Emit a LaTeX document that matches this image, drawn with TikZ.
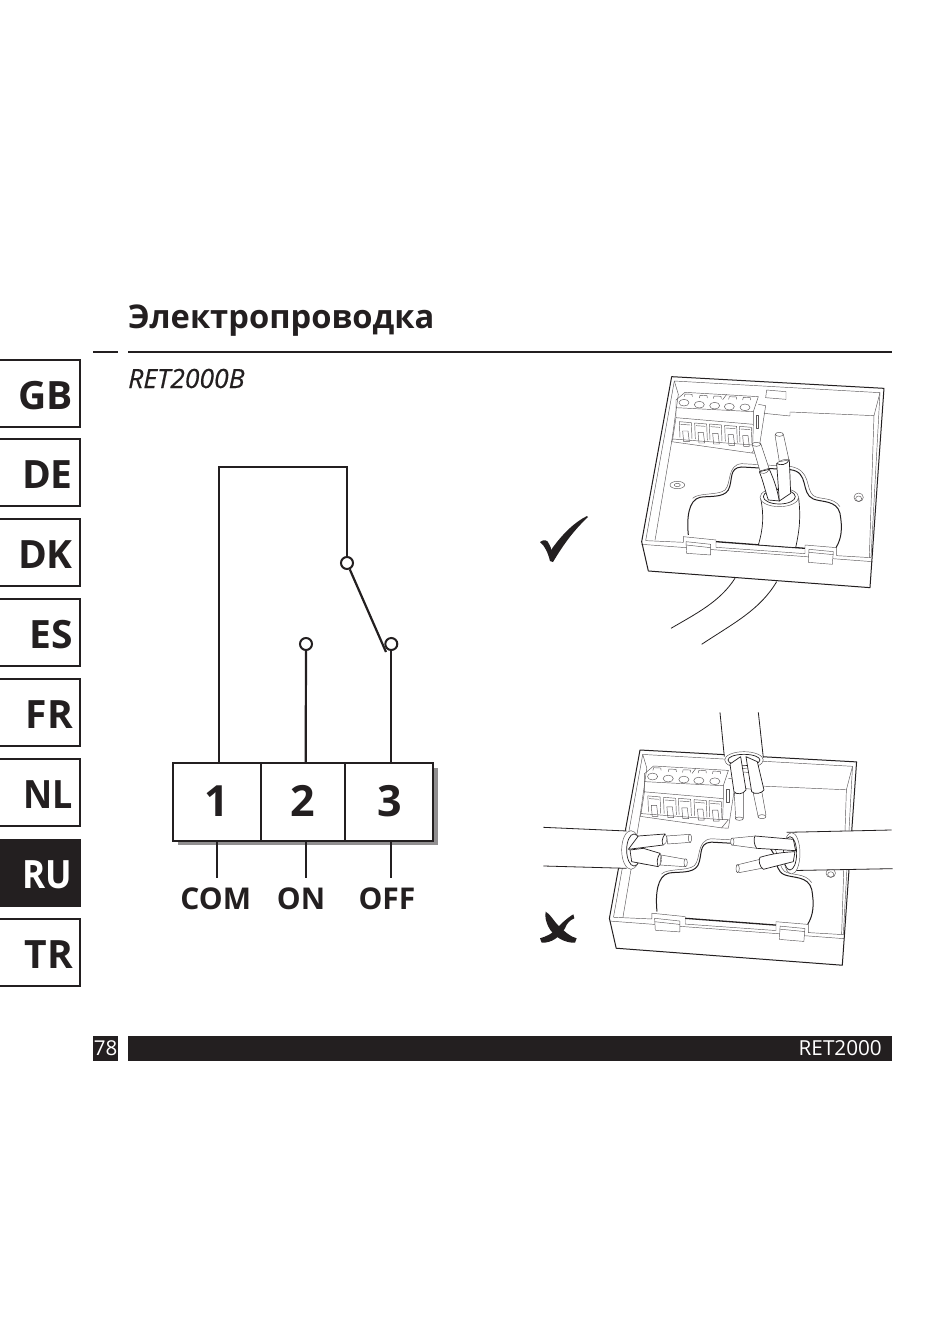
\documentclass[tikz,border=0pt]{standalone}
\usepackage{fontspec}
\setmainfont{Open Sans}
\definecolor{ink}{HTML}{231F20}
\tikzset{
  tab/.style={draw=ink,line width=1.4pt,fill=white},
  tabtext/.style={anchor=base east,inner sep=0pt,text=ink,font=\fontsize{39}{39}\selectfont\bfseries},
  wire/.style={draw=ink,line width=2.2pt},
  term/.style={circle,draw=ink,line width=2pt,fill=white,minimum size=12pt,inner sep=0pt},
  terminal/.style={draw=ink,line width=2pt,fill=white,minimum height=77.5pt,inner sep=0pt,text=ink,font=\fontsize{43}{43}\selectfont\bfseries},
  pin/.style={anchor=base,inner sep=0pt,text=ink,font=\fontsize{30}{30}\selectfont\bfseries},
  hv/.style={draw=ink,line width=1pt,line join=round},
  hm/.style={draw=ink,line width=.8pt,line join=round},
  ht/.style={draw=ink!75,line width=.45pt,line join=round},
  cab/.style={draw=ink,line width=.7pt,fill=white,line join=round},
  core/.style={draw=ink!80,line width=.45pt,fill=white,line join=round},
}
\newcommand{\housingshape}{%
  % walls
  \draw[ht] (163,48)--(780,83)--(753,578);
  \draw[ht] (163,48)--(77,527);
  \draw[ht] (163,48)--(175,88)--(155,230)--(105,526);
  \draw[ht] (780,83)--(762,152)--(748,578);
  \draw[ht] (510,141)--(762,152);
  \draw[ht] (432,145)--(510,153)--(510,141);
  \draw[ht] (440,75)--(498,80)--(498,103)--(437,98)--cycle;
  % holes
  \draw[ht] (172,360) ellipse (22 and 11);
  \draw[ht] (172,360) ellipse (9 and 5);
  \draw[ht] (716,397) ellipse (14 and 13);
  \draw[ht] (716,401) ellipse (9 and 8);
  % terminal block
  \draw[ht] (195,82)--(415,95)--(400,140)--(168,128)--(168,105)--cycle;
  \draw[ht] (168,128)--(168,158)--(400,178)--(400,140);
  \draw[ht] (168,158)--(158,222)--(398,240)--(400,178);
  \draw[ht] (158,222)--(155,230)--(395,264)--(415,240)--(398,240);
  \draw[ht] (415,118)--(437,122)--(415,265)--(395,264);
  \draw[ht] (408,150) rectangle (416,190);
  \draw[ht] (308,104)--(320,88);
  \foreach \xa/\ya/\xb/\yb in {192/113/205/92,238/119/250/96,284/122/292/98,328/125/338/100,375/127/380/102}{
    \draw[ht] (\xa,\ya) ellipse (15 and 10);
    \draw[ht] (\xb-12,\yb+3)--(\xb-10,\yb-5)--(\xb+11,\yb-4)--(\xb+12,\yb+3);
  }
  \foreach \sx/\sy in {178/170,224/174,268/177,314/181,358/184}{
    \draw[ht] (\sx,\sy)--(\sx+36,\sy+3)--(\sx+38,\sy+52);
    \draw[ht] (\sx,\sy)--(\sx+2,\sy+48);
    \draw[ht] (\sx+4,\sy+8)--(\sx+32,\sy+10);
    \draw[ht] (\sx+10,\sy+28)--(\sx+26,\sy+28)--(\sx+30,\sy+60)--(\sx+13,\sy+60)--cycle;
  }
  % slot opening
  \draw[ht] (218,400) .. controls (235,382) and (295,392) .. (315,375)
     .. controls (335,355) and (320,300) .. (365,296) -- (510,304)
     .. controls (575,315) and (555,370) .. (580,392)
     .. controls (600,405) and (640,395) .. (660,425);
  \draw[hm,line width=1pt] (205,510) .. controls (200,460) and (205,405) .. (240,397)
     .. controls (265,392) and (310,400) .. (325,375)
     .. controls (340,345) and (325,308) .. (365,306) -- (510,314)
     .. controls (570,320) and (540,385) .. (580,402)
     .. controls (605,412) and (650,405) .. (660,445)
     .. controls (668,490) and (665,520) .. (648,548);
  % front
  \draw[ht] (78,527)--(190,532)--(190,515)--(288,525)--(288,530);
  \draw[hm,line width=1.3pt] (288,530)--(555,550);
  \draw[ht] (288,530)--(288,547)--(555,566)--(555,540)--(650,548)--(650,572)--(753,578);
  \draw[ht] (65,538)--(757,590);
  \draw[ht,fill=white] (198,530)--(272,538)--(272,570)--(200,565)--cycle;
  \draw[ht] (198,540)--(272,548);
  \draw[ht,fill=white] (567,553)--(640,560)--(637,598)--(565,592)--cycle;
  \draw[ht] (567,562)--(640,569);
  % outer box
  \draw[hv] (155,35)--(792,70)--(750,668)--(85,618)--(65,530)--cycle;
}
\begin{document}
\begin{tikzpicture}[x=1pt,y=-1pt]
\useasboundingbox (0,0) rectangle (950,1344);
\fill[white] (0,0) rectangle (950,1344);
% heading
\node[anchor=base west,inner sep=0pt,text=ink,font=\fontsize{32.7}{33}\selectfont\bfseries] (title) at (128,328) {Электропроводка};
\coordinate (r1a) at (93,352); \coordinate (r1b) at (118,352);
\coordinate (r2a) at (128,352); \coordinate (r2b) at (892,352);
\draw[ink,line width=1.5pt] (r1a)--(r1b);
\draw[ink,line width=1.5pt] (r2a)--(r2b);
\node[anchor=base west,inner sep=0pt,text=ink,font=\fontsize{26.5}{26}\selectfont\itshape\addfontfeature{FakeBold=0.5}] (model) at (128,388) {RET2000B};
% tabs
\foreach \tt/\lab in {360/GB,439/DE,519/DK,599/ES,679/FR,919/TR}{
  \draw[tab] (-3,\tt) rectangle (80,\tt+67);
  \node[tabtext] at (73,\tt+49) {\lab};
}
\draw[tab] (-3,759) rectangle (80,826);
\node[tabtext,transform shape,xscale=.92] (nl) at (73,808) {NL};
\fill[ink] (0,839) rectangle (81,907);
\node[tabtext,text=white,transform shape,xscale=.9] (ru) at (72,888) {RU};
% footer
\fill[ink] (93,1036) rectangle (118,1061);
\node[text=white,inner sep=0pt,font=\fontsize{20.5}{20}\selectfont] (page) at (105.5,1048.5) {78};
\fill[ink] (128,1036) rectangle (892,1061);
\node[anchor=base east,text=white,inner sep=0pt,font=\fontsize{20.7}{20}\selectfont] (foot) at (882,1055.5) {RET2000};
% wiring diagram
\fill[ink!50] (178,768) rectangle (438,845);
\node[terminal,minimum width=87.4pt] (t1) at (217,802) {\raisebox{1.5pt}{1}};
\node[terminal,minimum width=84.6pt] (t2) at (303,802) {\raisebox{1.5pt}{2}};
\node[terminal,minimum width=88pt] (t3) at (389.3,802) {\raisebox{1.5pt}{3}};
\node[pin] (com) at (215.7,909) {COM};
\node[pin] (on) at (301,909) {ON};
\node[pin] (off) at (387,909) {OFF};
\node[term] (s0) at (347,563) {};
\node[term] (s2) at (306,644) {};
\node[term] (s3) at (391.3,644) {};
\coordinate (w1) at (219.3,763.5);
\coordinate (c1) at (219.3,467);
\coordinate (c2) at (347,467);
\coordinate (arm) at (386,652);
\coordinate (w2) at (305.7,763.5);
\coordinate (w3) at (391.3,763.5);
\draw[wire] (w1)--(c1)--(c2)--(s0);
\draw[wire] (s0)--(arm);
\draw[wire] (s2)--(w2);
\draw[wire] (s3)--(w3);
\coordinate (b1a) at (217.3,841); \coordinate (b1b) at (217.3,878);
\coordinate (b2a) at (305.7,841); \coordinate (b2b) at (305.7,878);
\coordinate (b3a) at (391.3,841); \coordinate (b3b) at (391.3,878);
\draw[wire] (b1a)--(b1b);
\draw[wire] (b2a)--(b2b);
\draw[wire] (b3a)--(b3b);
% tick
\fill[ink] (540,542) .. controls (544,539) and (548,540) .. (549,544)
  .. controls (551,547) and (551,549) .. (551,550)
  .. controls (563,533) and (575,522) .. (587,516)
  -- (588,517) .. controls (572,532) and (562,547) .. (553,562)
  -- (550,561) .. controls (548,553) and (545,546) .. (540,542) -- cycle;
% first box
\begin{scope}[shift={(620,365)},x=.3333pt,y=-.3333pt]
  \coordinate (ca1) at (345,640);
  \coordinate (cb1) at (153,790);
  \coordinate (ca2) at (470,650);
  \coordinate (cb2) at (245,838);
  \draw[hm] (ca1) .. controls (300,710) and (230,745) .. (cb1);
  \draw[hm] (ca2) .. controls (420,735) and (340,775) .. (cb2);
  \housingshape
  \draw[cab] (422,400) .. controls (432,450) and (430,490) .. (415,540) -- (527,548)
     .. controls (540,490) and (542,450) .. (536,400) -- cycle;
  \draw[ht,fill=white] (478,397) ellipse (58 and 28);
  \draw[cab] (478,395) ellipse (48 and 22);
  \draw[core] (397,240)--(420,318)--(447,310)--(422,235)--cycle;
  \draw[core] (409,238) ellipse (13 and 6);
  \draw[cab] (418,320) .. controls (430,350) and (435,375) .. (445,405)
     -- (478,408) .. controls (470,365) and (460,340) .. (448,313) -- cycle;
  \draw[ht] (418,320) .. controls (425,328) and (440,328) .. (448,313);
  \draw[core] (465,210)--(478,290)--(507,285)--(490,207)--cycle;
  \draw[core] (478,208) ellipse (12 and 6);
  \draw[cab] (470,295)--(478,408)--(512,385)--(508,285)
     .. controls (500,300) and (480,303) .. (470,295) -- cycle;
  \draw[ht] (470,295) .. controls (480,285) and (500,280) .. (508,285);
\end{scope}
% second box
\begin{scope}[shift={(587.3,738.1)},x=.34pt,y=-.34pt]
  \housingshape
\end{scope}
\begin{scope}[shift={(530,705)},x=.3333pt,y=-.3333pt]
  % top cable
  \draw[cab,draw=none] (570,22)--(585,165)--(700,165)--(685,22)--cycle;
  \draw[hm] (570,22)--(583,155);
  \draw[hm] (685,22)--(700,158);
  \draw[ht,fill=white] (642,165) ellipse (58 and 25);
  \draw[cab] (642,165) ellipse (48 and 17);
  \draw[core] (613,265)--(617,340)--(640,340)--(640,263)--cycle;
  \draw[core] (628,341) ellipse (12 and 5);
  \draw[core] (670,265)--(685,337)--(708,330)--(695,258)--cycle;
  \draw[core] (696,335) ellipse (12 and 6);
  \draw[cab] (600,177)--(612,260) .. controls (620,270) and (640,268) .. (648,255)--(632,155)--cycle;
  \draw[cab] (648,155)--(665,260) .. controls (675,270) and (695,265) .. (702,255)--(682,170)--cycle;
  % left cable
  \draw[cab,draw=none] (40,367)--(290,378)--(290,490)--(40,483)--cycle;
  \draw[hm] (40,367)--(290,378);
  \draw[hm] (40,483)--(290,490);
  \draw[ht,fill=white] (303,435) ellipse (28 and 58);
  \draw[cab] (312,435) ellipse (22 and 48);
  \draw[core] (410,393)--(480,388)--(482,412)--(413,417)--cycle;
  \draw[core] (480,400) ellipse (5 and 12);
  \draw[cab] (325,393)--(405,387) .. controls (395,400) and (395,415) .. (400,420)--(295,433)--cycle;
  \draw[ht] (405,387) .. controls (415,395) and (412,415) .. (400,420);
  \draw[core] (393,450)--(467,463)--(465,485)--(390,480)--cycle;
  \draw[core] (467,473) ellipse (5 and 12);
  \draw[cab] (300,435)--(340,430)--(390,445) .. controls (380,460) and (380,475) .. (385,485)--(305,470)--cycle;
  \draw[ht] (390,445) .. controls (398,455) and (396,478) .. (385,485);
  % right cable
  \draw[cab,draw=none] (770,382)--(1085,375)--(1088,490)--(770,497)--cycle;
  \draw[hm] (770,382)--(1085,375);
  \draw[hm] (770,497)--(1088,491);
  \draw[ht,fill=white] (785,445) ellipse (25 and 62);
  \draw[cab] (780,445) ellipse (20 and 50);
  \draw[core] (605,400)--(677,393)--(680,430)--(605,420)--cycle;
  \draw[core] (607,410) ellipse (5 and 11);
  \draw[cab] (675,393)--(790,403)--(797,437)--(680,430) .. controls (672,420) and (670,400) .. (675,393) -- cycle;
  \draw[core] (620,480)--(690,463)--(695,490)--(627,503)--cycle;
  \draw[core] (623,491) ellipse (5 and 12);
  \draw[cab] (690,457) .. controls (730,445) and (760,442) .. (795,440)--(790,470)--(700,493) .. controls (688,485) and (685,465) .. (690,457) -- cycle;
  % cross
  \fill[ink] (47,620) .. controls (62,628) and (72,650) .. (88,665)
    .. controls (105,680) and (120,695) .. (140,700) -- (135,713)
    .. controls (105,715) and (70,695) .. (55,665)
    .. controls (48,650) and (44,635) .. (47,620) -- cycle;
  \fill[ink] (130,628) .. controls (110,640) and (95,655) .. (85,665)
    .. controls (65,690) and (45,695) .. (30,700) -- (35,713)
    .. controls (65,715) and (90,695) .. (105,670)
    .. controls (110,655) and (120,645) .. (133,640) -- cycle;
\end{scope}
\end{tikzpicture}
\end{document}
